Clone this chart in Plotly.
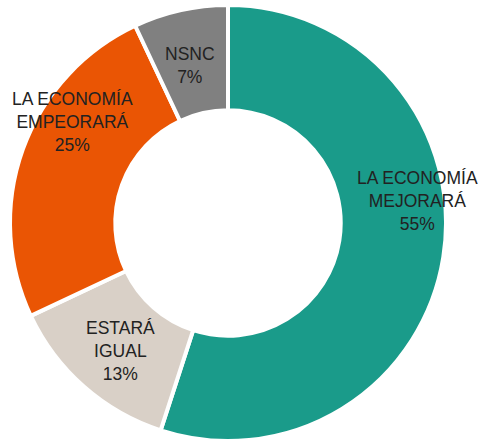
import plotly.graph_objects as go

categories = ["LA ECONOMÍA<br>MEJORARÁ", "ESTARÁ<br>IGUAL", "LA ECONOMÍA<br>EMPEORARÁ", "NSNC"]
values = [55, 13, 25, 7]
colors = ["#1A9B8A", "#D9D0C7", "#EA5504", "#808080"]

W, H = 485, 441
# label centre positions in pixels (x, y of the middle of the text block)
label_px = [(417, 201), (120, 351), (72, 122), (190, 66)]

fig = go.Figure(go.Pie(
    labels=categories,
    values=values,
    marker=dict(colors=colors, line=dict(color="white", width=4)),
    hole=0.517,
    sort=False,
    direction="clockwise",
    rotation=0,
    textinfo="none",
    hoverinfo="label+percent",
    showlegend=False,
    domain=dict(x=[(228 - 218) / W, (228 + 218) / W], y=[0.0, 1 - 5 / H]),
))

for (cat, v), (px, py) in zip(zip(categories, values), label_px):
    fig.add_annotation(
        x=px / W, y=1 - py / H, xref="paper", yref="paper",
        text=f"{cat}<br>{v}%", showarrow=False,
        xanchor="center", yanchor="middle", align="center",
        font=dict(family="Liberation Sans, Arial, sans-serif", size=17.5, color="#222222"),
    )

fig.update_layout(
    width=W, height=H,
    margin=dict(l=0, r=0, t=0, b=0),
    paper_bgcolor="white", plot_bgcolor="white",
)

fig.write_html("out.html", config={"displayModeBar": False},
               post_script="document.body.style.margin='0';")
